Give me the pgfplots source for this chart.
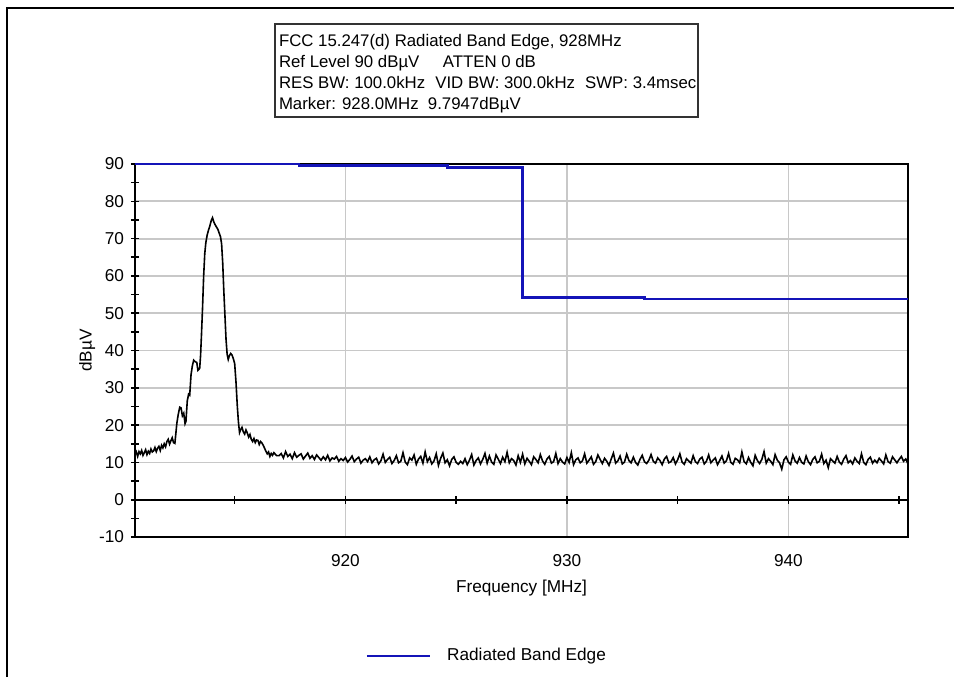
\documentclass[border=0pt]{standalone}
\usepackage{fontspec}
\setmainfont{Liberation Sans}
\usepackage{pgfplots}
\usepackage{pgfplotstable}
\pgfplotsset{compat=1.18}
\definecolor{edgeblue}{rgb}{0.08,0.08,0.72}
\definecolor{gridgray}{RGB}{200,200,200}
\pgfplotstableread{
x y
910.50 12.0
910.56 12.8
910.62 11.6
910.68 12.9
910.74 12.3
910.80 13.2
910.86 11.9
910.92 12.6
910.98 13.4
911.04 12.1
911.10 13.0
911.16 12.4
911.22 13.6
911.28 12.8
911.34 13.1
911.40 14.0
911.46 12.9
911.52 13.8
911.58 14.3
911.64 13.2
911.70 14.6
911.76 13.9
911.82 15.0
911.88 14.2
911.94 15.6
912.00 16.2
912.06 14.9
912.12 15.8
912.18 16.6
912.24 15.3
912.30 15.1
912.34 17.5
912.39 20.5
912.45 22.8
912.52 24.8
912.58 24.6
912.64 22.5
912.70 23.2
912.76 20.4
912.80 21.0
912.86 26.5
912.92 28.3
912.97 28.0
913.03 33.5
913.09 35.9
913.15 37.4
913.22 37.0
913.29 36.8
913.34 34.7
913.42 35.2
913.46 38.6
913.50 44.0
913.55 51.5
913.60 60.0
913.65 66.0
913.70 69.0
913.76 71.0
913.82 72.3
913.88 73.4
913.94 74.8
914.00 75.6
914.05 74.6
914.11 73.8
914.17 73.2
914.24 72.5
914.30 71.5
914.36 70.5
914.41 68.6
914.46 63.5
914.51 56.0
914.56 49.5
914.61 43.0
914.66 39.0
914.71 37.6
914.76 38.6
914.82 39.2
914.88 38.8
914.94 37.8
915.00 36.5
915.06 31.5
915.12 25.0
915.17 20.8
915.22 18.0
915.27 18.8
915.33 19.4
915.39 18.2
915.45 17.6
915.51 18.7
915.57 17.9
915.63 16.8
915.69 17.5
915.75 16.2
915.81 15.6
915.87 16.4
915.93 15.3
915.99 16.0
916.05 15.9
916.11 14.8
916.17 15.6
916.23 15.2
916.29 14.6
916.35 13.8
916.41 13.0
916.47 12.3
916.53 12.8
916.59 11.6
916.65 12.4
916.71 11.9
916.77 12.6
916.9 11.8
917.0 11.8
917.1 12.4
917.2 11.2
917.3 12.9
917.4 11.6
917.5 12.2
917.6 11.0
917.7 12.6
917.8 11.4
917.9 11.9
918.0 12.3
918.1 10.9
918.2 11.7
918.3 12.5
918.4 11.1
918.5 11.8
918.6 10.8
918.7 12.0
918.8 11.3
918.9 10.6
919.0 11.5
919.1 10.7
919.2 11.9
919.3 10.4
919.4 11.2
919.5 10.9
919.6 11.6
919.7 10.3
919.8 11.0
919.9 10.5
920.0 11.3
920.1 10.1
920.2 10.8
920.3 11.7
920.4 10.2
920.5 10.9
920.6 11.4
920.7 9.8
920.8 10.6
920.9 11.0
921.0 10.2
921.1 11.5
921.2 9.9
921.3 10.7
921.4 11.1
921.5 9.6
921.6 10.4
921.7 12.2
921.8 10.0
921.9 10.8
922.0 11.4
922.1 9.7
922.2 10.5
922.3 11.8
922.4 9.9
922.5 10.3
922.6 12.6
922.7 10.1
922.8 9.4
922.9 11.2
923.0 10.6
923.1 12.0
923.2 9.5
923.3 10.9
923.4 11.6
923.5 9.8
923.6 12.8
923.7 10.2
923.8 11.3
923.9 9.6
924.0 10.4
924.1 12.3
924.2 9.2
924.3 11.1
924.4 12.5
924.5 9.9
924.6 10.7
924.7 9.1
924.8 10.8
924.9 11.5
925.0 10.0
925.1 9.5
925.2 10.3
925.3 9.7
925.4 11.0
925.5 9.4
925.6 10.6
925.7 12.1
925.8 9.3
925.9 10.5
926.0 11.2
926.1 9.6
926.2 10.8
926.3 12.4
926.4 9.8
926.5 11.7
926.6 10.1
926.7 9.5
926.8 12.0
926.9 10.9
927.0 9.7
927.1 11.4
927.2 10.2
927.3 12.7
927.4 9.9
927.5 11.0
927.6 10.5
927.7 9.3
927.8 11.8
927.9 10.0
928.0 12.2
928.1 9.6
928.2 11.1
928.3 10.3
928.4 9.4
928.5 11.5
928.6 10.8
928.7 9.9
928.8 12.1
928.9 10.4
929.0 9.5
929.1 10.9
929.2 11.6
929.3 9.8
929.4 10.2
929.5 12.4
929.6 9.7
929.7 11.0
929.8 10.1
929.9 9.6
930.0 11.3
930.1 10.0
930.2 12.6
930.3 9.4
930.4 10.7
930.5 11.2
930.6 9.9
930.7 10.4
930.8 12.3
930.9 9.8
931.0 10.6
931.1 11.5
931.2 9.5
931.3 10.2
931.4 12.0
931.5 10.8
931.6 9.7
931.7 11.1
931.8 10.3
931.9 9.2
932.0 10.9
932.1 12.5
932.2 9.8
932.3 10.4
932.4 11.7
932.5 9.6
932.6 10.1
932.7 12.2
932.8 10.5
932.9 9.9
933.0 11.4
933.1 10.0
933.2 9.3
933.3 10.8
933.4 11.9
933.5 10.2
933.6 9.7
933.7 10.6
933.8 12.1
933.9 10.3
934.0 9.8
934.1 11.2
934.2 10.5
934.3 9.4
934.4 10.9
934.5 11.6
934.6 9.9
934.7 10.2
934.8 11.3
934.9 9.6
935.0 10.7
935.1 12.3
935.2 10.1
935.3 9.5
935.4 11.0
935.5 10.4
935.6 9.8
935.7 11.8
935.8 10.2
935.9 9.7
936.0 10.9
936.1 11.4
936.2 9.6
936.3 10.3
936.4 12.0
936.5 9.9
936.6 10.6
936.7 11.2
936.8 9.4
936.9 10.5
937.0 11.7
937.1 9.8
937.2 10.4
937.3 12.4
937.4 10.0
937.5 9.5
937.6 11.1
937.7 10.7
937.8 9.9
937.9 12.8
938.0 10.2
938.1 9.6
938.2 11.3
938.3 10.0
938.4 9.1
938.5 11.9
938.6 10.5
938.7 9.7
938.8 10.8
938.9 12.9
939.0 9.8
939.1 11.0
939.2 10.3
939.3 9.4
939.4 12.1
939.5 10.6
939.6 9.9
939.7 8.2
939.8 10.7
939.9 11.5
940.0 10.1
940.1 9.5
940.2 12.0
940.3 10.4
940.4 9.8
940.5 11.3
940.6 10.0
940.7 9.6
940.8 11.7
940.9 10.2
941.0 9.4
941.1 10.8
941.2 11.5
941.3 9.9
941.4 10.3
941.5 12.2
941.6 9.7
941.7 10.6
941.8 8.6
941.9 11.0
942.0 10.4
942.1 9.8
942.2 11.6
942.3 10.1
942.4 9.5
942.5 10.9
942.6 11.8
942.7 9.9
942.8 10.5
942.9 9.6
943.0 11.2
943.1 10.3
943.2 9.7
943.3 12.3
943.4 10.0
943.5 9.4
943.6 10.8
943.7 11.4
943.8 9.8
943.9 10.6
944.0 9.9
944.1 11.1
944.2 10.4
944.3 9.6
944.4 12.0
944.5 10.2
944.6 9.8
944.7 11.5
944.8 10.7
944.9 9.9
945.0 10.8
945.1 11.6
945.2 10.3
945.3 10.9
945.4 9.6
}\tracetable
\begin{document}
\begin{tikzpicture}[font=\fontsize{8.6}{10.5}\selectfont]
\useasboundingbox (-67.5pt,-70pt) rectangle (409.5pt,268.5pt);
\draw[black, line width=1.2pt] (-64pt,-70pt) -- (-64pt,264.5pt) -- (409.5pt,264.5pt);
\draw[black!80, line width=0.8pt] (70pt,210pt) rectangle (281.5pt,256.5pt);
\begin{scope}[font=\fontsize{8.4}{10.5}\selectfont]
\node[anchor=base west, inner sep=0pt] at (71.8pt,245.5pt) {FCC 15.247(d) Radiated Band Edge, 928MHz};
\node[anchor=base west, inner sep=0pt] at (71.8pt,235pt) {Ref Level 90 dBµV\hspace{1.4em}ATTEN 0 dB};
\node[anchor=base west, inner sep=0pt] at (71.8pt,224.5pt) {RES BW: 100.0kHz\hspace{0.6em}VID BW: 300.0kHz\hspace{0.6em}SWP: 3.4msec};
\node[anchor=base west, inner sep=0pt] at (71.8pt,214pt) {Marker: 928.0MHz\hspace{0.55em}9.7947dBµV};
\end{scope}
\begin{axis}[
  at={(0,0)}, anchor=south west,
  width=386.5pt, height=186.5pt, scale only axis,
  xmin=910.5, xmax=945.4, ymin=-10, ymax=90,
  xtick={920,930,940}, ytick={-10,0,...,90}, minor y tick num=1,
  grid=major, major grid style={gridgray, line width=0.9pt},
  ytick pos=left, xtick pos=bottom,
  tick align=center, major tick length=4pt, minor tick length=4pt,
  x tick style={draw=none},
  y tick style={black, line width=0.8pt},
  minor y tick style={black, line width=0.8pt},
  axis line style={black, line width=0.8pt},
  /pgf/number format/assume math mode=true,
  /pgf/number format/1000 sep={},
  xlabel={Frequency [MHz]}, ylabel={dBµV},
  xlabel style={at={(axis description cs:0.5,-0.137)}, anchor=center},
  ylabel style={at={(axis description cs:-0.062,0.5)}, anchor=center},
  xticklabel style={yshift=-3pt},
  clip=false,
  legend style={draw=none, fill=none, at={(0.2975,-0.319)}, anchor=west, inner sep=0pt, font=\fontsize{8.6}{10.5}\selectfont},
  legend image code/.code={\draw[#1] (0pt,0pt) -- (31.5pt,0pt);},
]
\addplot[black, line width=0.8pt, forget plot] table[x=x,y=y] {\tracetable};
\addplot[edgeblue, line width=1.4pt] coordinates {(910.5,90) (917.9,90) (917.9,89.7) (924.6,89.7) (924.6,89.1) (928.0,89.1) (928.0,54.3) (933.5,54.3) (933.5,53.8) (945.4,53.8)};
\addlegendentry{\hspace{6pt}Radiated Band Edge}
\end{axis}
\begin{axis}[
  at={(0,0)}, anchor=south west,
  width=386.5pt, height=186.5pt, scale only axis,
  xmin=910.5, xmax=945.4, ymin=-10, ymax=90,
  axis x line=middle, axis y line=none,
  xtick={915,920,...,945}, xticklabels={}, ytick=\empty,
  tick align=center, major tick length=4pt,
  x tick style={black, line width=0.8pt},
  axis line style={-, black, line width=0.8pt},
]
\addplot[draw=none, forget plot] coordinates {(915,0) (945,0)};
\end{axis}
\end{tikzpicture}
\end{document}
